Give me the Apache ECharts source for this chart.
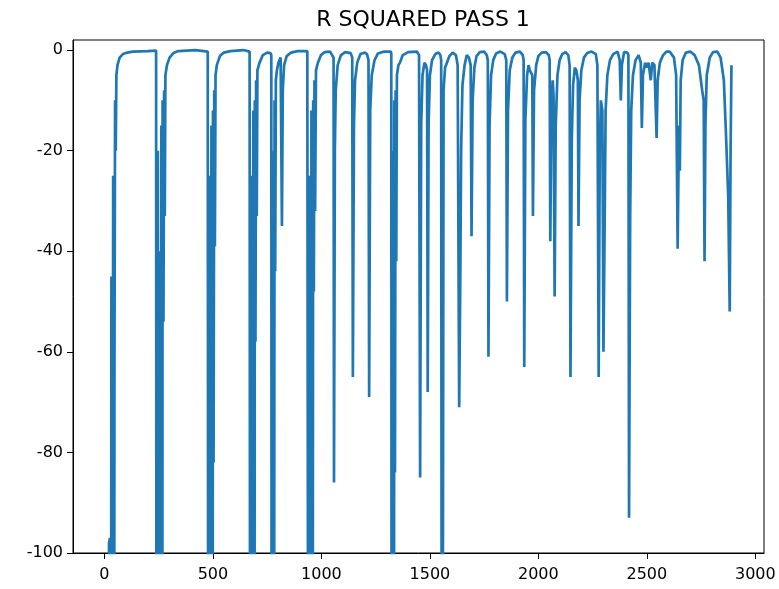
<!DOCTYPE html>
<html>
<head>
<meta charset="utf-8">
<script src="https://cdn.jsdelivr.net/npm/echarts@6/dist/echarts.min.js"></script>
<style>
  html, body { margin: 0; padding: 0; background: #fff; }
  #chart { width: 779px; height: 589px; }
</style>
</head>
<body>
<div id="chart"></div>
<script>
// r squared per step ([step, r2]); values under -100 are off the axis
var passStart = [
    [0, -480], [18, -300], [21, -98], [25, -97], [28, -300], [32, -45], [36, -300], [40, -25],
    [43, -300], [46, -65], [49, -10], [52, -20], [55, -5], [60, -3], [70, -1.5], [85, -0.8],
    [105, -0.5], [130, -0.3], [200, -0.2], [238, -0.1],
    [240, -0.2], [242, -300], [246, -20], [250, -300], [254, -40], [258, -300], [262, -15],
    [265, -300], [268, -10], [272, -54], [275, -8], [278, -33], [281, -5], [288, -3],
    [300, -1.5], [318, -0.6], [340, -0.2], [420, 0], [476, -0.3],
    [478, -0.3], [481, -300], [485, -25], [489, -300], [493, -15], [497, -300], [500, -12],
    [503, -82], [506, -8], [509, -39], [512, -5], [518, -3], [532, -1.2], [550, -0.5],
    [580, -0.2], [640, 0], [669, -0.3]
];
var passEarly = [
    [671, -0.3], [674, -300], [678, -25], [682, -300], [686, -12], [690, -300], [693, -10],
    [696, -58], [699, -6], [702, -33], [705, -4], [715, -2.5], [730, -1], [750, -0.5],
    [765, -0.6], [769, -1],
    [772, -250], [776, -20], [780, -250], [784, -10], [787, -44], [790, -6], [795, -4],
    [802, -2.5], [812, -1.5], [816, -1.5], [818, -35], [822, -8], [828, -3], [840, -1.2],
    [860, -0.5], [890, -0.2], [935, -0.2],
    [939, -0.4], [942, -250], [946, -25], [950, -250], [954, -12], [958, -250], [962, -10],
    [965, -48], [968, -6], [971, -32], [975, -4], [984, -2.5], [998, -1], [1015, -0.4],
    [1040, -0.3], [1056, -1.5], [1058, -86], [1062, -20], [1066, -8], [1075, -3], [1090, -1],
    [1110, -0.4], [1135, -0.6], [1142, -1.5], [1145, -65], [1150, -15], [1155, -6], [1165, -2.5],
    [1180, -0.8], [1200, -0.5], [1210, -0.8], [1217, -2], [1220, -69], [1225, -12], [1232, -5],
    [1245, -2], [1260, -0.7], [1290, -0.3], [1320, -0.3], [1322, -0.8]
];
var passMiddle = [
    [1325, -250], [1329, -20], [1333, -250], [1336, -10], [1339, -84], [1342, -8], [1345, -42],
    [1348, -5], [1355, -3], [1362, -2.5], [1375, -1], [1400, -0.4], [1440, -0.3], [1450, -1],
    [1455, -85], [1460, -15], [1466, -5], [1475, -2.5], [1482, -3], [1487, -4],
    [1490, -68], [1494, -15], [1500, -5], [1510, -2], [1525, -0.8], [1540, -0.5], [1548, -1],
    [1552, -2], [1554, -105], [1557, -15], [1560, -105], [1563, -8], [1570, -3.5], [1590, -1.2],
    [1605, -0.5], [1620, -1], [1628, -3], [1635, -71], [1640, -46], [1644, -20], [1650, -7],
    [1660, -3], [1670, -1], [1680, -1.5], [1688, -3], [1692, -37], [1697, -10], [1705, -3.5],
    [1715, -1.2], [1730, -0.4], [1750, -0.3], [1762, -1], [1767, -2], [1770, -61], [1775, -15],
    [1782, -5], [1792, -2], [1805, -0.7], [1825, -0.3], [1845, -0.8], [1852, -2], [1855, -50],
    [1860, -12], [1868, -4], [1880, -1.5], [1895, -0.5], [1915, -0.3], [1928, -1], [1932, -2],
    [1935, -63], [1940, -14], [1948, -5], [1955, -3], [1960, -4], [1972, -5], [1975, -33],
    [1980, -8], [1990, -3], [2000, -1.2], [2015, -0.5], [2035, -0.4], [2048, -1]
];
var passLate = [
    [2052, -2], [2055, -38], [2060, -12], [2066, -6], [2070, -9], [2075, -49], [2080, -15],
    [2088, -5], [2098, -2], [2110, -0.8], [2125, -0.4], [2138, -1], [2144, -3], [2148, -65],
    [2154, -18], [2160, -7], [2168, -3.5], [2175, -4], [2182, -6], [2185, -35], [2190, -10],
    [2198, -4], [2210, -1.5], [2225, -0.6], [2245, -0.3], [2265, -0.8], [2272, -3], [2278, -65],
    [2283, -20], [2288, -10], [2295, -12], [2300, -60], [2305, -37], [2310, -12], [2318, -5],
    [2330, -2], [2345, -0.8], [2365, -0.3], [2375, -2], [2380, -10], [2385, -3], [2395, -0.4],
    [2410, -0.5], [2415, -1]
];
var passEnd = [
    [2418, -93], [2423, -34], [2428, -12], [2436, -5], [2448, -2], [2462, -1], [2472, -2.5],
    [2477, -15.5], [2482, -5], [2492, -2.5], [2500, -3.5], [2508, -2.5], [2518, -6], [2525, -2.5],
    [2535, -3], [2545, -17.5], [2550, -6], [2560, -2.5], [2575, -1], [2590, -0.3], [2605, -0.3],
    [2625, -1.5], [2635, -5], [2642, -39.5], [2648, -15], [2652, -24], [2656, -6], [2665, -2],
    [2680, -0.5], [2700, -0.3], [2720, -1], [2740, -3], [2755, -8], [2762, -10], [2766, -42],
    [2770, -15], [2776, -5], [2790, -1.5], [2805, -0.4], [2825, -0.3], [2840, -1.5], [2855, -6],
    [2865, -17], [2875, -29], [2882, -52], [2886, -20], [2890, -3]
];

var xTicks = [0, 500, 1000, 1500, 2000, 2500, 3000];
var yTicks = [-100, -80, -60, -40, -20, 0];

var passData = passStart.concat(passEarly, passMiddle, passLate, passEnd);

var chart = echarts.init(document.getElementById('chart'));
var font = 'DejaVu Sans';

var option = {
    animation: false,
    backgroundColor: '#fff',
    title: {
        text: 'R SQUARED PASS 1',
        left: 418,
        textAlign: 'center',
        top: 4,
        textStyle: {
            fontFamily: font,
            fontSize: 22,
            fontWeight: 'normal',
            color: '#000'
        }
    },
    grid: {
        left: 73,
        right: 15,
        top: 40,
        bottom: 36,
        show: true,
        borderColor: '#000',
        borderWidth: 1
    },
    xAxis: {
        type: 'value',
        min: -145,
        max: 3040,
        splitLine: { show: false },
        axisLine: { show: true, onZero: false, lineStyle: { color: '#000' } },
        axisTick: { show: true, length: 6, customValues: xTicks, lineStyle: { color: '#000' } },
        axisLabel: {
            customValues: xTicks,
            margin: 14,
            color: '#000',
            fontFamily: font,
            fontSize: 16,
            formatter: function (v) { return String(v); }
        }
    },
    yAxis: {
        type: 'value',
        min: -100,
        max: 2,
        splitLine: { show: false },
        axisLine: { show: true, onZero: false, lineStyle: { color: '#000' } },
        axisTick: { show: true, length: 6, customValues: yTicks, lineStyle: { color: '#000' } },
        axisLabel: {
            customValues: yTicks,
            margin: 10,
            color: '#000',
            fontFamily: font,
            fontSize: 16,
            formatter: function (v) { return String(v); }
        }
    },
    series: [
        {
            type: 'line',
            data: passData,
            showSymbol: false,
            clip: true,
            lineStyle: { color: '#1f77b4', width: 2.7 }
        }
    ]
};

chart.setOption(option);
</script>
</body>
</html>
